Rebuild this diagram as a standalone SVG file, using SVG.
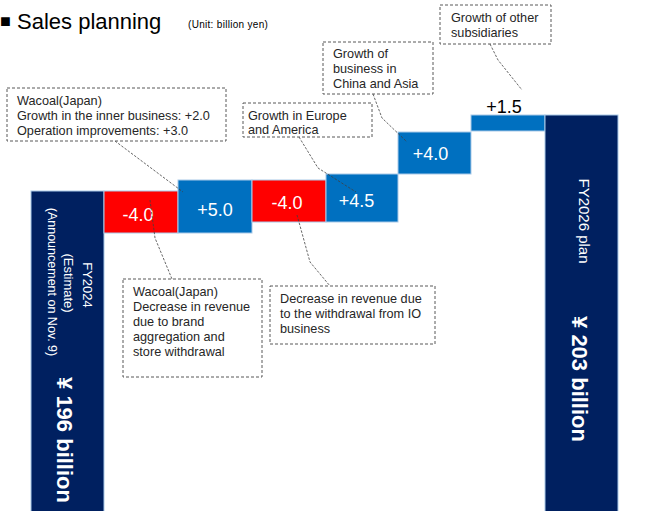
<svg xmlns="http://www.w3.org/2000/svg" width="654" height="511" viewBox="0 0 654 511">
<style>
text{font-family:"Liberation Sans",Arial,sans-serif;}
.bar{stroke:#A9C9E8;stroke-width:1;}
.navy{fill:#002060;}
.red{fill:#FF0000;}
.blue{fill:#0070C0;}
.val{fill:#FFFFFF;font-size:18px;text-anchor:middle;}
.call{fill:#FFFFFF;stroke:#595959;stroke-width:1;stroke-dasharray:3 2;}
.ct{fill:#262626;font-size:12.7px;}
.lead{fill:none;stroke:#404040;stroke-width:0.8;stroke-dasharray:2.5 1.5;}
.wt{fill:#FFFFFF;text-anchor:middle;}
</style>
<rect width="654" height="511" fill="#FFFFFF"/>
<g id="title">
<text x="0" y="27" font-family="DejaVu Sans,sans-serif" font-size="18" fill="#000">■</text>
<text x="17" y="29" font-size="22" fill="#000">Sales planning</text>
<text x="188" y="28" font-size="10" fill="#000" letter-spacing="0.3">(Unit: billion yen)</text>
</g>
<g id="bar-fy2024">
<rect class="bar navy" x="31" y="191" width="73" height="325"/>
<text class="wt" font-size="13" transform="translate(82.5,285) rotate(90)">FY2024</text>
<text class="wt" font-size="13" transform="translate(64,283) rotate(90)">(Estimate)</text>
<text class="wt" font-size="12.5" transform="translate(47.5,282) rotate(90)">(Announcement on Nov. 9)</text>
<text class="wt" font-size="22" font-weight="bold" transform="translate(57,440) rotate(90)">¥ 196 billion</text>
</g>
<g id="bar-japan-decrease">
<rect class="bar red" x="104" y="191" width="74" height="42"/>
<text class="val" x="138" y="221">-4.0</text>
</g>
<g id="bar-japan-growth">
<rect class="bar blue" x="178" y="180" width="74" height="53"/>
<text class="val" x="215" y="216">+5.0</text>
</g>
<g id="bar-io-decrease">
<rect class="bar red" x="252" y="180" width="74" height="42"/>
<text class="val" x="287" y="209">-4.0</text>
</g>
<g id="bar-europe">
<rect class="bar blue" x="326" y="174" width="72" height="48"/>
<text class="val" x="356.5" y="207">+4.5</text>
</g>
<g id="bar-asia">
<rect class="bar blue" x="398" y="132" width="73" height="42"/>
<text class="val" x="430.5" y="160">+4.0</text>
</g>
<g id="bar-other">
<rect class="bar blue" x="471" y="115" width="74" height="16"/>
<text x="504" y="113" font-size="18" text-anchor="middle" fill="#000">+1.5</text>
</g>
<g id="bar-fy2026">
<rect class="bar navy" x="545" y="115" width="73" height="401"/>
<text class="wt" font-size="15" transform="translate(579,221) rotate(90)">FY2026 plan</text>
<text class="wt" font-size="22" font-weight="bold" transform="translate(572,379) rotate(90)">¥ 203 billion</text>
</g>
<g id="connectors">
<polyline class="lead" points="115,141 183,192"/>
<polyline class="lead" points="150,200 155,238 172,279"/>
<polyline class="lead" points="297,215 310,262 330,286"/>
<polyline class="lead" points="299,137 318,168 356,192"/>
<polyline class="lead" points="373,94 382,118 407,142"/>
<polyline class="lead" points="490,44 498,60 522,90"/>
</g>
<g id="callout-japan-growth">
<rect class="call" x="7" y="88" width="219" height="53"/>
<text class="ct" x="17" y="105">Wacoal(Japan)</text>
<text class="ct" x="17" y="120">Growth in the inner business: +2.0</text>
<text class="ct" x="17" y="135">Operation improvements: +3.0</text>
</g>
<g id="callout-europe">
<rect class="call" x="243" y="103" width="129" height="34"/>
<text class="ct" x="248" y="120">Growth in Europe</text>
<text class="ct" x="248" y="134">and America</text>
</g>
<g id="callout-asia">
<rect class="call" x="323" y="42" width="110" height="52"/>
<text class="ct" x="333" y="58">Growth of</text>
<text class="ct" x="333" y="73">business in</text>
<text class="ct" x="333" y="88">China and Asia</text>
</g>
<g id="callout-other">
<rect class="call" x="440" y="5" width="111" height="39"/>
<text class="ct" x="451" y="22">Growth of other</text>
<text class="ct" x="451" y="37">subsidiaries</text>
</g>
<g id="callout-japan-decrease">
<rect class="call" x="123" y="279" width="139" height="98"/>
<text class="ct" x="133" y="296">Wacoal(Japan)</text>
<text class="ct" x="133" y="311">Decrease in revenue</text>
<text class="ct" x="133" y="326">due to brand</text>
<text class="ct" x="133" y="341">aggregation and</text>
<text class="ct" x="133" y="356">store withdrawal</text>
</g>
<g id="callout-io">
<rect class="call" x="270" y="286" width="165" height="58"/>
<text class="ct" x="280" y="303">Decrease in revenue due</text>
<text class="ct" x="280" y="318">to the withdrawal from IO</text>
<text class="ct" x="280" y="333">business</text>
</g>
</svg>
